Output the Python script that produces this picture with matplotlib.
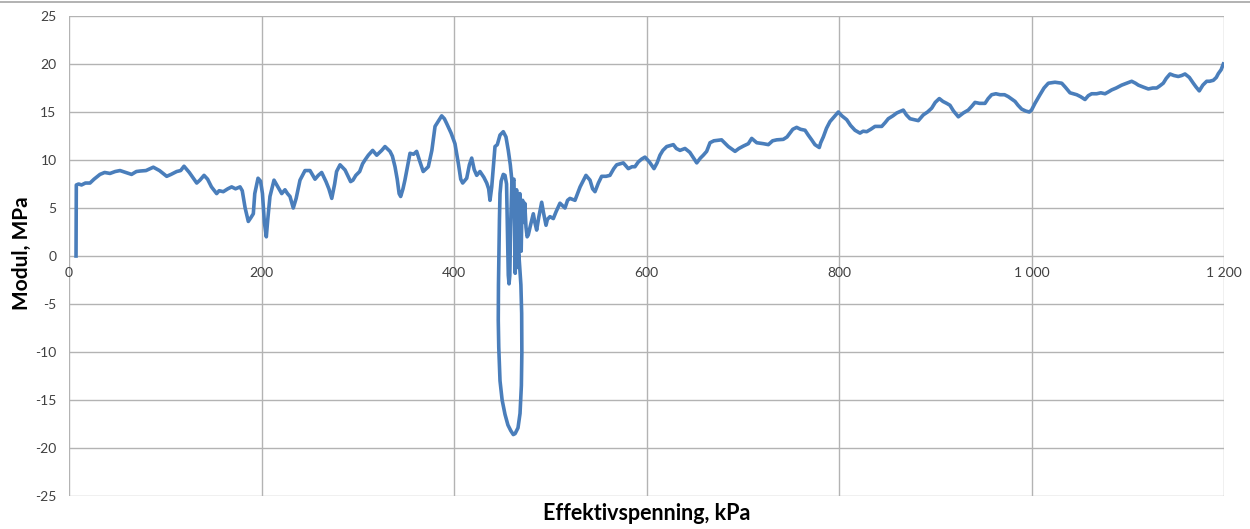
import matplotlib
matplotlib.use('Agg')
import matplotlib.pyplot as plt
from matplotlib.ticker import FuncFormatter, MultipleLocator
from matplotlib.lines import Line2D

plt.rcParams['font.family'] = ['Lato', 'DejaVu Sans']
plt.rcParams['axes.unicode_minus'] = False

# effektivspenning (kPa) og modul (MPa), lest av figuren
stress_kpa = [
    7.3, 7.6, 10, 13, 17, 21.8, 26, 32.2, 37, 42.6,
    48, 53, 59, 65, 70, 73.8, 80, 87.6, 94, 101.5,
    106, 111.9, 116, 119.5, 125, 132.7, 136, 140.3, 144, 148,
    153.4, 156, 160.3, 165, 169, 173, 177.7, 180, 183, 186.3,
    189, 191.5, 193, 196.4, 199, 201, 203, 205, 206.5, 208.8,
    213, 217, 221, 224.4, 227, 229.6, 233, 236, 240, 245.2,
    250.4, 255.6, 259, 262.5, 267, 270, 273, 276, 278, 281.6,
    286.8, 292.6, 295, 298, 302, 305, 307.5, 311, 315.5, 319.7,
    324.9, 328.3, 333.5, 336, 338.7, 341, 343, 344.6, 347, 349,
    352, 354.3, 358, 361.2, 364, 368, 373.3, 377, 380.3, 384,
    387.2, 390, 392.4, 397, 401, 404.5, 407, 409, 413.2, 416,
    418.4, 421, 423.6, 427, 431, 434, 436, 437.4, 439.2, 441,
    442.6, 445, 447.8, 451.2, 454, 456.4, 458.5, 460, 462, 464.5,
    467.5, 469.5, 470.3, 470.5, 470, 468.6, 466.5, 463.5, 461.6, 459,
    456, 453, 450, 447.8, 446.5, 446, 446.2, 446.7, 447.2, 447.8,
    449, 451.2, 453, 454.6, 455.5, 456.4, 457.2, 458, 458.8, 460,
    461, 462.3, 463, 463.6, 464.3, 465, 465.8, 466.7, 467.5, 468.4,
    469.2, 469.8, 470.5, 471.3, 472.3, 473.5, 474.8, 476, 477.2, 479,
    482.4, 484, 485.9, 488, 491.1, 493, 495.6, 497, 499.7, 503.2,
    506, 510.1, 515.3, 518, 520.5, 525.7, 531, 534, 537.1, 541.3,
    544, 546.5, 550, 553.4, 558, 562, 566, 569, 575.9, 581.1,
    585, 588, 591.5, 595, 598.4, 603, 607.8, 611, 614, 617,
    621, 627.9, 631, 634.8, 640, 645, 649, 652.2, 656, 659,
    662.5, 666, 670, 678, 685, 692, 696, 700.6, 705.8, 709.3,
    714.5, 721.4, 726.6, 731, 735.3, 742.1, 746, 749, 752, 756,
    760, 764.7, 768, 771.6, 775, 779.5, 781, 783.7, 787, 790.6,
    795, 799.3, 803, 808, 812, 816.6, 821.8, 825, 828.8, 833,
    837.4, 844.4, 848, 851.2, 856, 860, 866.8, 870, 873.8, 878,
    882.4, 885, 887.6, 892, 896.3, 900, 904.2, 908, 911.9, 915.3,
    919, 924, 929.2, 934.3, 938, 941.3, 946, 951.7, 955, 958.6,
    963, 967.3, 972, 975.9, 982.9, 986, 989.8, 994, 997.7, 1000,
    1003.6, 1008.8, 1013, 1017.5, 1024.4, 1031.4, 1035, 1040, 1047, 1051,
    1055.6, 1059, 1062.5, 1067.7, 1072, 1076.4, 1080, 1083.3, 1088, 1093.7,
    1099, 1104.1, 1108, 1111, 1116, 1121.4, 1126, 1130.1, 1133, 1136.9,
    1140, 1143.9, 1148, 1152.5, 1156, 1159.5, 1164, 1168.1, 1171, 1174.3,
    1178, 1182, 1185, 1188.9, 1192, 1194.1, 1197, 1199.3,
]
modul_mpa = [
    0.0, 7.4, 7.5, 7.4, 7.6, 7.6, 8.0, 8.5, 8.7, 8.6,
    8.8, 8.9, 8.7, 8.5, 8.8, 8.85, 8.9, 9.25, 8.9, 8.3,
    8.5, 8.8, 8.9, 9.35, 8.7, 7.6, 7.9, 8.4, 8.0, 7.2,
    6.5, 6.8, 6.7, 7.0, 7.2, 7.0, 7.2, 6.8, 5.0, 3.6,
    4.0, 4.4, 6.5, 8.1, 7.8, 6.5, 3.5, 2.0, 3.8, 6.2,
    7.9, 7.2, 6.5, 6.9, 6.5, 6.2, 5.0, 6.0, 7.9, 8.9,
    8.9, 8.0, 8.4, 8.7, 7.75, 7.0, 6.0, 7.5, 8.8, 9.5,
    8.96, 7.75, 7.9, 8.4, 8.8, 9.6, 10.0, 10.5, 11.0, 10.5,
    11.0, 11.4, 10.9, 10.4, 9.3, 8.0, 6.5, 6.2, 7.0, 7.9,
    9.5, 10.7, 10.6, 10.9, 10.0, 8.8, 9.3, 11.0, 13.5, 14.1,
    14.6, 14.3, 13.8, 12.8, 11.7, 9.65, 8.0, 7.6, 8.1, 9.5,
    10.2, 9.0, 8.4, 8.8, 8.2, 7.6, 7.0, 5.8, 7.2, 9.5,
    11.4, 11.6, 12.6, 12.95, 12.4, 11.0, 9.5, 8.0, 5.5, 2.5,
    0.0, -3.0, -6.0, -10.1, -13.5, -16.4, -17.9, -18.5, -18.6, -18.2,
    -17.6, -16.5, -15.0, -13.0, -9.5, -6.7, -3.0, 0.5, 3.75, 6.5,
    7.8, 8.5, 8.4, 7.5, 3.0, -2.0, -2.9, -2.0, 3.0, 7.2,
    7.8, 8.0, 3.0, -1.8, 2.0, 6.9, 3.0, -1.2, 2.5, 6.5,
    2.0, 0.5, 4.5, 5.8, 3.5, 5.5, 3.0, 2.0, 2.2, 3.0,
    4.4, 3.5, 2.7, 4.0, 5.6, 4.5, 3.2, 3.8, 4.1, 3.9,
    4.6, 5.5, 5.0, 5.8, 6.0, 5.8, 7.2, 7.8, 8.4, 7.9,
    7.0, 6.7, 7.6, 8.3, 8.3, 8.4, 9.1, 9.5, 9.7, 9.1,
    9.3, 9.3, 9.8, 10.1, 10.3, 9.8, 9.1, 9.7, 10.5, 11.0,
    11.4, 11.6, 11.2, 11.0, 11.2, 10.8, 10.2, 9.7, 10.2, 10.5,
    10.9, 11.8, 12.0, 12.1, 11.4, 10.9, 11.2, 11.45, 11.7, 12.25,
    11.8, 11.7, 11.6, 12.0, 12.1, 12.15, 12.4, 12.8, 13.2, 13.4,
    13.2, 13.1, 12.6, 12.1, 11.6, 11.3, 11.8, 12.4, 13.3, 14.0,
    14.5, 15.0, 14.6, 14.2, 13.6, 13.1, 12.8, 13.0, 12.95, 13.2,
    13.5, 13.5, 13.9, 14.3, 14.6, 14.9, 15.2, 14.7, 14.3, 14.2,
    14.1, 14.4, 14.7, 15.0, 15.4, 16.0, 16.4, 16.1, 15.9, 15.7,
    15.1, 14.5, 14.9, 15.2, 15.6, 16.0, 15.9, 15.9, 16.4, 16.8,
    16.9, 16.8, 16.8, 16.6, 16.1, 15.7, 15.3, 15.1, 15.0, 15.2,
    15.9, 16.8, 17.5, 18.0, 18.1, 18.0, 17.6, 17.0, 16.8, 16.6,
    16.3, 16.7, 16.9, 16.9, 17.0, 16.9, 17.1, 17.3, 17.5, 17.8,
    18.0, 18.2, 18.0, 17.8, 17.6, 17.4, 17.5, 17.5, 17.7, 18.0,
    18.5, 18.96, 18.8, 18.7, 18.8, 18.96, 18.6, 18.0, 17.6, 17.2,
    17.8, 18.2, 18.2, 18.3, 18.6, 19.0, 19.4, 20.0,
]

fig = plt.figure(figsize=(12.5, 5.29), dpi=100)
ax = fig.add_axes([69 / 1250, 1 - 496 / 529, 1155 / 1250, 480 / 529])

ax.plot(stress_kpa, modul_mpa, color='#4a7ebb', lw=2.6, solid_joinstyle='round')

ax.set_xlim(0, 1200)
ax.set_ylim(-25, 25)
ax.xaxis.set_major_locator(MultipleLocator(200))
ax.yaxis.set_major_locator(MultipleLocator(5))
ax.xaxis.set_major_formatter(FuncFormatter(lambda v, p: f"{v:,.0f}".replace(",", "\u00a0")))

# x-aksen krysser ved 0
ax.spines['bottom'].set_position(('data', 0))
for s in ax.spines.values():
    s.set_visible(False)
ax.grid(True, color='#b3b3b3', lw=1.0)
ax.set_axisbelow(True)
ax.tick_params(length=0, labelsize=10, labelcolor='#404040')
ax.tick_params(axis='y', pad=9)
ax.tick_params(axis='x', pad=8)

ax.set_xlabel('Effektivspenning, kPa', fontsize=15.5, fontweight='bold', color='#000000')
ax.xaxis.set_label_coords(0.5, -0.014)
fig.text(22 / 1250, 1 - 253 / 529, 'Modul, MPa', rotation=90, ha='center', va='center',
         fontsize=15, fontweight='bold')

# tynn ramme øverst
fig.add_artist(Line2D([0, 1], [1 - 2 / 529, 1 - 2 / 529], transform=fig.transFigure,
                      color='#a6a6a6', lw=1.2))

fig.savefig('out.png', dpi=100)
